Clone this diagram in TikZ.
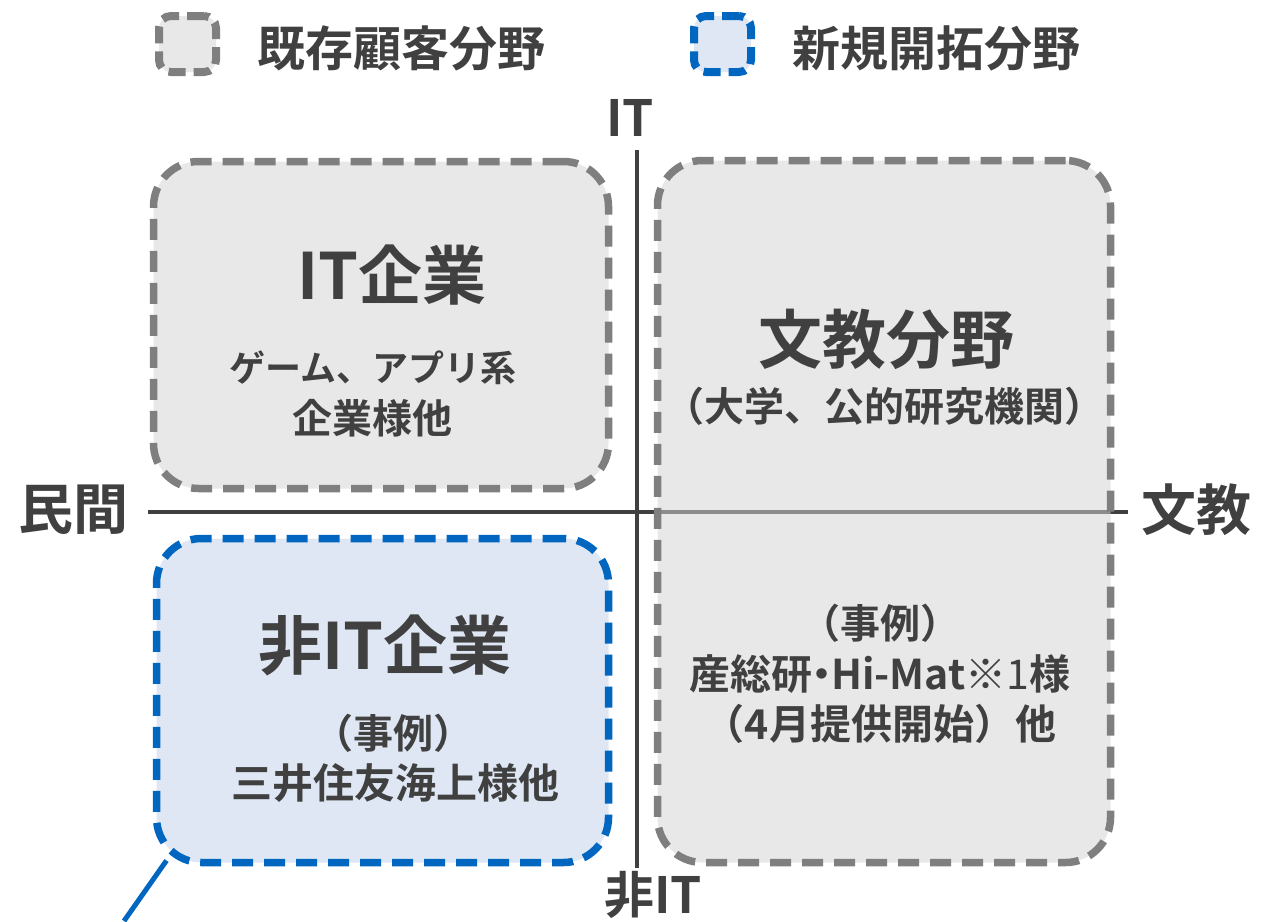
\documentclass[tikz,border=0pt]{standalone}
\usepackage{fontspec}
\setmainfont{Noto Sans CJK JP}[BoldFont=* Bold]
\definecolor{txt}{HTML}{404040}
\definecolor{gline}{HTML}{7F7F7F}
\definecolor{gfill}{HTML}{E8E8E8}
\definecolor{gfillt}{HTML}{D3D3D3}
\definecolor{bline}{HTML}{0066C0}
\definecolor{bfill}{HTML}{DEE7F3}
\newcommand{\fs}[1]{\fontsize{#1}{#1}\selectfont\bfseries}
\newcommand{\ndot}{\kern-0.28em・\kern-0.28em}
\begin{document}
\begin{tikzpicture}[x=1pt,y=-1pt,
  every node/.style={inner sep=0pt,outer sep=0pt,text=txt,font=\bfseries},
  graybox/.style={draw=gline,fill=gfill,line width=7.5pt,dash pattern=on 21pt off 11pt,rounded corners=45pt},
  bluebox/.style={draw=bline,fill=bfill,line width=7.5pt,dash pattern=on 21pt off 11pt,rounded corners=45pt},
  leggray/.style={draw=gline,fill=gfill,line width=8pt,dash pattern=on 17pt off 8pt,rounded corners=12pt,minimum width=57pt,minimum height=56pt},
  legblue/.style={draw=bline,fill=bfill,line width=8pt,dash pattern=on 17pt off 8pt,rounded corners=12pt,minimum width=57pt,minimum height=56pt},
  axis/.style={draw=txt,line width=3.5pt}
]
\useasboundingbox (0,0) rectangle (1274,921);

% legend
\node[leggray] (lg) at (187.5,44) {};
\node[anchor=center] (lgt) at (401.5,48) {\fs{48}既存顧客分野};
\node[legblue] (lb) at (722.5,44) {};
\node[anchor=center] (lbt) at (936.5,48) {\fs{48}新規開拓分野};

% axes
\coordinate (vtop) at (637,150);
\coordinate (vbot) at (637,868);
\coordinate (hl) at (148,512);
\coordinate (hr) at (1128,512);
\draw[axis] (vtop) -- (vbot);
\draw[axis] (hl) -- (hr);
\node (it) at (630,118) {\fs{50}IT};
\node (nit) at (653,895) {\fs{50}非IT};
\node (min) at (73.5,510) {\fs{55}民間};
\node (bun) at (1196,510) {\fs{55}文教};

% boxes
\node[graybox,minimum width=455pt,minimum height=327pt] (itb) at (381,325) {};
\node[draw=gline,line width=7.5pt,dash pattern=on 21pt off 11pt,rounded corners=45pt,
      fill=gfillt,fill opacity=0.52,draw opacity=1,minimum width=453pt,minimum height=702pt] (bk) at (884,511.5) {};
\node[bluebox,minimum width=452pt,minimum height=324pt] (nb) at (382.5,700.5) {};

% connector off the blue box
\coordinate (lend) at (124,921);
\draw[bline,line width=5pt] ([xshift=10pt,yshift=2pt]nb.south west) -- (lend);

% texts
\node (t1) at (392,275) {\fs{64}IT企業};
\node (t2) at (373,368) {\fs{36}ゲーム、アプリ系};
\node (t3) at (372,418) {\fs{40}企業様他};

\node (t4) at (886,339) {\fs{64}文教分野};
\node (t5) at (884,406) {\fs{40}（大学、公的研究機関）};
\node (t6) at (880,623) {\fs{40}（事例）};
\node (t7) at (880,674) {\fs{41}産総研\ndot Hi-Mat{\mdseries ※1}様};
\node (t8) at (880,724) {\fs{41}（4月提供開始）他};

\node (t9) at (385,645) {\fs{64}非IT企業};
\node (t10) at (393,733) {\fs{40}（事例）};
\node (t11) at (395,783) {\fs{41}三井住友海上様他};
\end{tikzpicture}
\end{document}
